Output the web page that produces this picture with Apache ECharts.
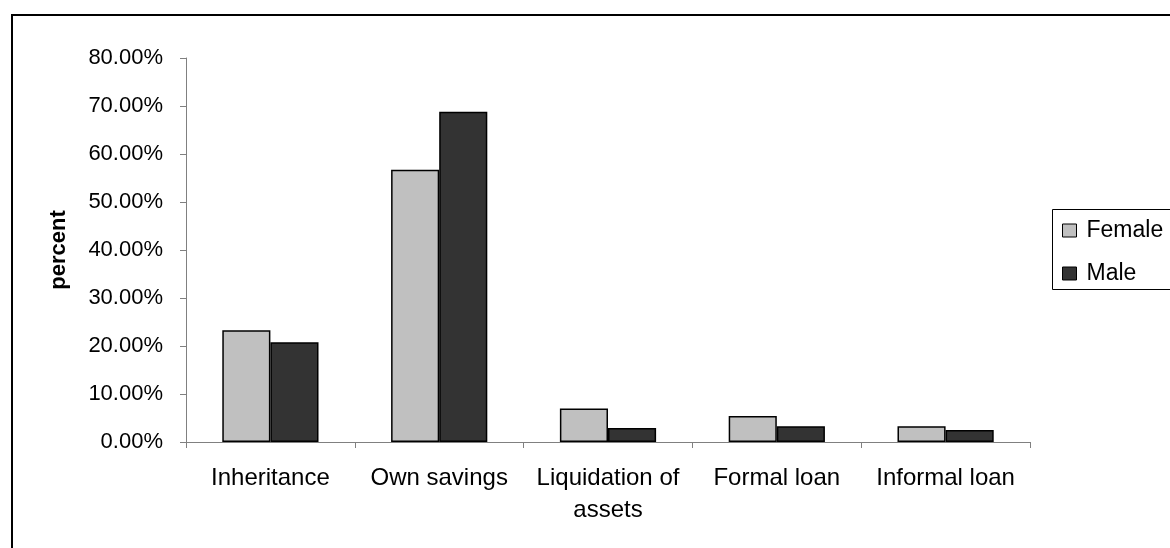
<!DOCTYPE html>
<html><head><meta charset="utf-8">
<script src="https://cdn.jsdelivr.net/npm/echarts@6/dist/echarts.min.js"></script>
<style>html,body{margin:0;padding:0;background:#fff}#c{width:1170px;height:548px}</style>
</head><body><div id="c"></div>
<script>
const categories = ['Inheritance', 'Own savings', 'Liquidation of\nassets', 'Formal loan', 'Informal loan'];
const female = [23.3, 56.7, 7.0, 5.4, 3.3];
const male = [20.8, 68.8, 2.9, 3.3, 2.5];
const yTicks = [0, 10, 20, 30, 40, 50, 60, 70, 80];

const chart = echarts.init(document.getElementById('c'));
const font = 'Liberation Sans, Arial, sans-serif';
chart.setOption({
  animation: false,
  backgroundColor: '#fff',
  grid: { left: 186, right: 140, top: 58, bottom: 106, containLabel: false },
  legend: {
    orient: 'vertical', left: 1062, top: 219, itemGap: 20, padding: 0,
    itemWidth: 14, itemHeight: 13, icon: 'rect',
    textStyle: { fontFamily: font, fontSize: 23, color: '#000', padding: [0,0,0,5] },
    itemStyle: { borderColor: '#000', borderWidth: 1 },
    data: ['Female', 'Male']
  },
  graphic: [
    { type: 'rect', shape: { x: 12, y: 15, width: 1170, height: 545 }, style: { fill: 'none', stroke: '#000', lineWidth: 2 }, silent: true },
    { type: 'rect', shape: { x: 1052.5, y: 209.5, width: 130, height: 80 }, style: { fill: 'none', stroke: '#000', lineWidth: 1 }, silent: true }
  ],
  xAxis: {
    type: 'category', data: categories, boundaryGap: true,
    axisLine: { lineStyle: { color: '#808080', width: 1 } },
    axisTick: { show: true, length: 6, lineStyle: { color: '#808080' } },
    axisLabel: { interval: 0, fontFamily: font, fontSize: 24, color: '#000', margin: 20, lineHeight: 32 }
  },
  yAxis: {
    type: 'value', min: 0, max: 80, interval: 10,
    name: 'percent', nameLocation: 'middle', nameGap: 116, nameRotate: 90,
    nameTextStyle: { fontFamily: font, fontSize: 22, fontWeight: 'bold', color: '#000' },
    splitLine: { show: false },
    axisLine: { show: true, lineStyle: { color: '#808080', width: 1 } },
    axisTick: { show: true, length: 6, lineStyle: { color: '#808080' } },
    axisLabel: { fontFamily: font, fontSize: 22, color: '#000', margin: 23,
      formatter: v => v.toFixed(2) + '%' }
  },
  series: [
    { name: 'Female', type: 'bar', data: female, barGap: '0%', barCategoryGap: '43%',
      itemStyle: { color: '#c0c0c0', borderColor: '#000', borderWidth: 1.5 } },
    { name: 'Male', type: 'bar', data: male, barGap: '0%', barCategoryGap: '43%',
      itemStyle: { color: '#333333', borderColor: '#000', borderWidth: 1.5 } }
  ]
});
</script></body></html>
